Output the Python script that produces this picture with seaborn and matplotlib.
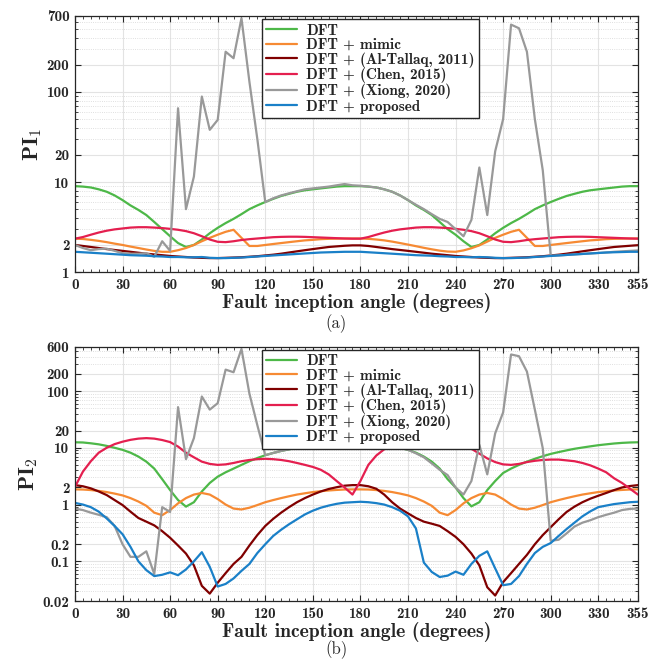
import numpy as np
import pandas as pd
import matplotlib.pyplot as plt
import seaborn as sns
from matplotlib.ticker import FixedLocator, FixedFormatter, MultipleLocator, LogLocator, NullFormatter

angle = list(range(0, 360, 5))

methods = ["DFT", "DFT + mimic", "DFT + (Al-Tallaq, 2011)", "DFT + (Chen, 2015)",
           "DFT + (Xiong, 2020)", "DFT + proposed"]
colors = ["#4db848", "#f68a33", "#800000", "#e41f4f", "#999999", "#1a80c8"]

# ---- PI1 ----
pi1_dft = [9.0, 8.9, 8.7, 8.3, 7.8, 7.1, 6.3, 5.5, 4.9, 4.3, 3.6, 3.0, 2.5, 2.1, 1.9, 2.0, 2.3, 2.7,
           3.1, 3.5, 3.9, 4.4, 5.0, 5.5, 6.0, 6.5, 7.0, 7.4, 7.8, 8.1, 8.3, 8.5, 8.7, 8.9, 9.0, 9.0,
           9.0, 8.9, 8.7, 8.3, 7.8, 7.1, 6.3, 5.5, 4.9, 4.3, 3.6, 3.0, 2.6, 2.2, 1.9, 2.0, 2.3, 2.7,
           3.1, 3.5, 3.9, 4.4, 5.0, 5.5, 6.0, 6.5, 7.0, 7.4, 7.8, 8.1, 8.3, 8.5, 8.7, 8.9, 9.0, 9.0]
pi1_mimic = [2.35, 2.33, 2.28, 2.22, 2.15, 2.07, 2.0, 1.92, 1.85, 1.78, 1.72, 1.68, 1.68, 1.75, 1.85, 2.0,
             2.2, 2.4, 2.6, 2.8, 2.95, 2.4, 1.95, 1.95, 2.0, 2.05, 2.1, 2.15, 2.2, 2.25, 2.28, 2.32,
             2.34, 2.35, 2.36, 2.36,
             2.36, 2.34, 2.3, 2.25, 2.18, 2.1, 2.02, 1.94, 1.86, 1.79, 1.73, 1.69, 1.68, 1.74, 1.84, 1.98,
             2.18, 2.4, 2.6, 2.8, 2.95, 2.4, 1.95, 1.95, 2.0, 2.05, 2.1, 2.15, 2.2, 2.25, 2.28, 2.32,
             2.34, 2.35, 2.36, 2.36]
pi1_altallaq = [2.0, 1.95, 1.9, 1.85, 1.8, 1.76, 1.72, 1.68, 1.64, 1.6, 1.57, 1.54, 1.51, 1.49, 1.47, 1.45,
                1.44, 1.43, 1.43, 1.44, 1.45, 1.46, 1.48, 1.5, 1.53, 1.56, 1.6, 1.65, 1.7, 1.75, 1.8, 1.85,
                1.9, 1.93, 1.96, 1.98,
                1.98, 1.95, 1.9, 1.85, 1.8, 1.76, 1.72, 1.68, 1.64, 1.6, 1.57, 1.54, 1.51, 1.49, 1.47, 1.45,
                1.44, 1.43, 1.43, 1.44, 1.45, 1.46, 1.48, 1.5, 1.53, 1.56, 1.6, 1.65, 1.7, 1.75, 1.8, 1.85,
                1.9, 1.93, 1.96, 1.99]
pi1_chen = [2.35, 2.45, 2.6, 2.75, 2.88, 2.98, 3.05, 3.12, 3.15, 3.15, 3.12, 3.08, 3.02, 2.95, 2.85, 2.7,
            2.5, 2.3, 2.17, 2.15, 2.2, 2.27, 2.32, 2.36, 2.4, 2.44, 2.46, 2.47, 2.47, 2.46, 2.44, 2.42,
            2.4, 2.38, 2.36, 2.35,
            2.35, 2.45, 2.6, 2.75, 2.88, 2.98, 3.05, 3.12, 3.15, 3.15, 3.12, 3.08, 3.02, 2.95, 2.85, 2.7,
            2.5, 2.3, 2.17, 2.15, 2.2, 2.27, 2.32, 2.36, 2.4, 2.44, 2.46, 2.47, 2.47, 2.46, 2.44, 2.42,
            2.4, 2.38, 2.36, 2.35]
pi1_xiong = [2.0, 1.85, 1.75, 1.8, 1.82, 1.72, 1.62, 1.6, 1.6, 1.62, 1.48, 2.2, 1.72, 66, 5.0, 11.5,
             89, 38, 49, 280, 237, 660, 130, 30, 6.0, 6.6, 7.1, 7.5, 7.9, 8.3, 8.5, 8.7,
             8.9, 9.2, 9.5, 9.2,
             9.1, 8.9, 8.7, 8.3, 7.8, 7.1, 6.3, 5.6, 5.0, 4.4, 3.9, 3.6, 3.0, 2.5, 3.8, 14.5,
             4.3, 22, 50, 560, 510, 280, 50, 13.5, 1.52, 1.53, 1.55, 1.57, 1.59, 1.61, 1.63, 1.65,
             1.68, 1.7, 1.72, 1.74]
pi1_proposed = [1.68, 1.66, 1.64, 1.62, 1.6, 1.58, 1.56, 1.54, 1.53, 1.52, 1.5, 1.49, 1.47, 1.47, 1.46, 1.46,
                1.47, 1.44, 1.43, 1.43, 1.44, 1.45, 1.47, 1.49, 1.51, 1.53, 1.55, 1.57, 1.59, 1.61, 1.63, 1.65,
                1.66, 1.67, 1.68, 1.68,
                1.68, 1.66, 1.64, 1.62, 1.6, 1.58, 1.56, 1.54, 1.53, 1.52, 1.5, 1.49, 1.47, 1.47, 1.46, 1.47,
                1.46, 1.44, 1.43, 1.43, 1.44, 1.45, 1.47, 1.49, 1.51, 1.53, 1.55, 1.57, 1.59, 1.61, 1.63, 1.65,
                1.66, 1.67, 1.68, 1.68]

# ---- PI2 ----
pi2_dft = [12.5, 12.4, 12.0, 11.5, 10.8, 10.0, 9.2, 8.2, 7.0, 5.7, 4.3, 2.8, 1.8, 1.2, 0.92, 1.1,
           1.7, 2.4, 3.1, 3.7, 4.3, 5.0, 5.8, 6.6, 7.4, 8.1, 8.8, 9.4, 10.0, 10.6, 11.1, 11.5,
           11.9, 12.2, 12.4, 12.5,
           12.5, 12.4, 12.0, 11.5, 10.8, 10.0, 9.2, 8.2, 7.0, 5.7, 4.3, 2.8, 2.0, 1.3, 0.93, 1.1,
           1.8, 2.6, 3.6, 4.3, 5.0, 5.7, 6.4, 7.1, 7.8, 8.4, 9.0, 9.6, 10.1, 10.6, 11.1, 11.5,
           11.9, 12.2, 12.4, 12.5]
pi2_mimic = [1.85, 1.84, 1.8, 1.74, 1.66, 1.56, 1.45, 1.3, 1.13, 0.95, 0.72, 0.65, 0.8, 1.05, 1.3, 1.5,
             1.6, 1.5, 1.25, 1.0, 0.85, 0.82, 0.88, 0.98, 1.1, 1.2, 1.3, 1.4, 1.5, 1.58, 1.66, 1.72,
             1.77, 1.81, 1.84, 1.85,
             1.85, 1.84, 1.8, 1.74, 1.66, 1.56, 1.45, 1.3, 1.13, 0.95, 0.72, 0.65, 0.8, 1.05, 1.3, 1.5,
             1.6, 1.5, 1.25, 1.0, 0.85, 0.82, 0.88, 0.98, 1.1, 1.2, 1.3, 1.4, 1.5, 1.58, 1.66, 1.72,
             1.77, 1.81, 1.84, 1.85]
pi2_altallaq = [2.2, 2.1, 1.93, 1.7, 1.47, 1.2, 0.98, 0.75, 0.58, 0.5, 0.43, 0.34, 0.26, 0.19, 0.137, 0.085,
                0.037, 0.027, 0.042, 0.062, 0.09, 0.12, 0.19, 0.29, 0.42, 0.56, 0.72, 0.9, 1.1, 1.3, 1.5, 1.7,
                1.88, 2.02, 2.15, 2.2,
                2.2, 2.1, 1.9, 1.5, 1.1, 0.85, 0.7, 0.58, 0.5, 0.46, 0.42, 0.34, 0.27, 0.2, 0.137, 0.085,
                0.035, 0.025, 0.043, 0.062, 0.09, 0.13, 0.2, 0.29, 0.4, 0.55, 0.74, 0.92, 1.1, 1.27, 1.43, 1.6,
                1.8, 2.0, 2.12, 2.2]
pi2_chen = [2.05, 3.8, 5.8, 8.2, 10.0, 11.6, 12.8, 13.8, 14.5, 14.8, 14.5, 13.7, 12.6, 10.5, 8.2, 6.8,
            5.7, 5.2, 5.0, 5.1, 5.4, 5.8, 6.1, 6.3, 6.4, 6.3, 6.1, 5.8, 5.4, 5.0, 4.6, 4.1,
            3.4, 2.6, 2.0, 1.5,
            2.6, 5.0, 7.3, 9.4, 11.2, 12.4, 13.3, 14.0, 14.5, 14.8, 14.6, 14.0, 13.0, 11.5, 9.6, 7.9,
            6.5, 5.6, 5.1, 5.0, 5.2, 5.6, 5.9, 6.1, 6.2, 6.2, 6.0, 5.8, 5.4, 4.9, 4.3, 3.7,
            2.9, 2.4, 1.9, 1.5]
pi2_xiong = [0.85, 0.8, 0.72, 0.66, 0.6, 0.42, 0.2, 0.12, 0.12, 0.15, 0.06, 0.9, 0.74, 52, 6.3, 14.8,
             80, 47, 61, 238, 214, 551, 90, 25, 7.4, 8.1, 8.8, 9.4, 10.0, 10.6, 11.1, 11.5,
             11.9, 12.2, 12.4, 12.5,
             12.5, 12.4, 12.0, 11.5, 10.8, 10.0, 9.2, 8.0, 6.8, 5.3, 4.1, 3.3, 2.0, 1.5, 2.6, 11.3,
             3.4, 18, 42, 440, 410, 220, 47, 9.8, 0.23, 0.24, 0.31, 0.41, 0.48, 0.53, 0.6, 0.66,
             0.72, 0.8, 0.84, 0.85]
pi2_proposed = [1.07, 1.0, 0.9, 0.75, 0.57, 0.42, 0.3, 0.18, 0.1, 0.07, 0.055, 0.058, 0.064, 0.057, 0.072, 0.1,
                0.145, 0.08, 0.036, 0.04, 0.05, 0.068, 0.09, 0.14, 0.2, 0.28, 0.36, 0.45, 0.55, 0.67, 0.78, 0.88,
                0.96, 1.03, 1.08, 1.1,
                1.12, 1.1, 1.06, 1.0, 0.9, 0.78, 0.62, 0.38, 0.095, 0.065, 0.053, 0.056, 0.066, 0.058, 0.09, 0.125,
                0.15, 0.075, 0.038, 0.04, 0.055, 0.09, 0.14, 0.18, 0.21, 0.28, 0.37, 0.48, 0.62, 0.76, 0.9, 0.96,
                1.02, 1.06, 1.1, 1.12]

pi1_series = [pi1_dft, pi1_mimic, pi1_altallaq, pi1_chen, pi1_xiong, pi1_proposed]
pi2_series = [pi2_dft, pi2_mimic, pi2_altallaq, pi2_chen, pi2_xiong, pi2_proposed]


def long_df(series):
    parts = [pd.DataFrame({"angle": angle, "value": s, "method": m}) for m, s in zip(methods, series)]
    return pd.concat(parts, ignore_index=True)


sns.set_style("ticks")
plt.rcParams["font.family"] = ["cmb10", "DejaVu Serif"]
plt.rcParams["mathtext.fontset"] = "cm"
plt.rcParams["axes.unicode_minus"] = False

fig = plt.figure(figsize=(6.67, 6.62), dpi=100)
ax1 = fig.add_axes([0.1124, 0.589, 0.844, 0.387])
ax2 = fig.add_axes([0.1124, 0.0921, 0.844, 0.384])

setups = [
    (ax1, pi1_series, (1, 700), [1, 2, 10, 20, 100, 200, 700], r"PI$_\mathbf{1}$", "(a)", 0.511),
    (ax2, pi2_series, (0.02, 600), [0.02, 0.1, 0.2, 1, 2, 10, 20, 100, 200, 600], r"PI$_\mathbf{2}$", "(b)", 0.018),
]

for ax, series, ylim, yticks, ylab, cap, cap_y in setups:
    sns.lineplot(data=long_df(series), x="angle", y="value", hue="method", hue_order=methods,
                 palette=colors, linewidth=1.6, errorbar=None, ax=ax)
    ax.set_yscale("log")
    ax.set_xlim(0, 355)
    ax.set_ylim(*ylim)
    ax.xaxis.set_major_locator(FixedLocator(list(range(0, 331, 30)) + [355]))
    ax.xaxis.set_minor_locator(MultipleLocator(5))
    ax.yaxis.set_major_locator(FixedLocator(yticks))
    ax.yaxis.set_major_formatter(FixedFormatter([f"{t:g}" for t in yticks]))
    ax.yaxis.set_minor_locator(LogLocator(base=10, subs=np.arange(2, 10), numticks=20))
    ax.yaxis.set_minor_formatter(NullFormatter())
    ax.tick_params(which="both", direction="in", top=True, right=True, labelsize=10.8, pad=4)
    ax.tick_params(which="major", length=4.5, width=0.8)
    ax.tick_params(which="minor", length=2.5, width=0.6)
    ax.grid(which="major", color="#e3e3e3", linewidth=0.8, linestyle="-")
    ax.grid(which="minor", axis="y", color="#d5d5d5", linewidth=0.6, linestyle=":")
    ax.set_axisbelow(True)
    for sp in ax.spines.values():
        sp.set_color("#262626")
        sp.set_linewidth(0.9)
    ax.set_xlabel("Fault inception angle (degrees)", fontsize=14.2, labelpad=1)
    ax.set_ylabel(ylab, fontsize=16, labelpad=2)
    handles, labels = ax.get_legend_handles_labels()
    ax.legend(handles, labels, loc="upper left", bbox_to_anchor=(0.332, 0.988), fontsize=11,
              frameon=True, fancybox=False, framealpha=1, edgecolor="#262626",
              handlelength=2.0, labelspacing=0.02, borderpad=0.3, handletextpad=0.6, borderaxespad=0)
    fig.text(0.504, cap_y, cap, ha="center", va="center", fontsize=12, family=["cmr10", "DejaVu Serif"])

fig.savefig("out.png", dpi=100)
